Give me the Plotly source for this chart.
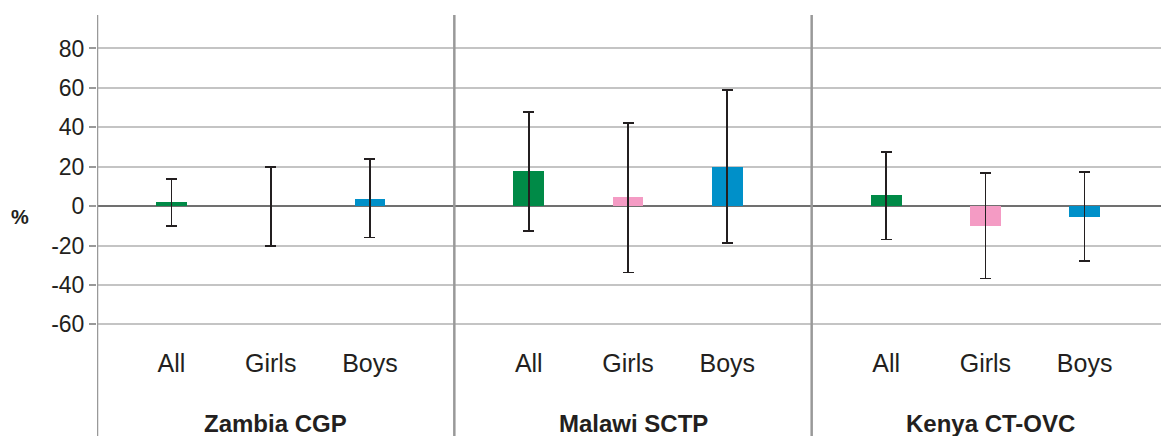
import plotly.graph_objects as go

groups = ["Zambia CGP", "Malawi SCTP", "Kenya CT-OVC"]
categories = ["All", "Girls", "Boys"]
colors = ["#008A47", "#F49BC4", "#0090C9"]

# point estimates and confidence limits (%), per group, per category
values = [[2.2, 0.0, 3.5], [17.8, 4.6, 19.8], [5.6, -10.0, -5.4]]
upper = [[13.7, 20.0, 23.8], [47.9, 42.3, 59.0], [27.6, 16.9, 17.3]]
lower = [[-10.0, -20.4, -16.0], [-12.5, -33.7, -18.6], [-16.9, -36.7, -28.0]]

y_ticks = [-60, -40, -20, 0, 20, 40, 60, 80]
y_ticktext = ["-60", "-40", "-20", "0", "20", "40", "60", "80"]

GW = 3.6   # group width in x units
OFF = 0.75

fig = go.Figure()
tickvals, ticktext = [], []
for c, cat in enumerate(categories):
    xs, ys, ep, em = [], [], [], []
    for g in range(len(groups)):
        x = g * GW + c + OFF
        xs.append(x)
        v = values[g][c]
        ys.append(v)
        ep.append(upper[g][c] - v)
        em.append(v - lower[g][c])
    fig.add_trace(go.Bar(
        x=xs, y=ys, width=0.31, marker=dict(color=colors[c], line=dict(width=0)),
        error_y=dict(type="data", symmetric=False, array=ep, arrayminus=em,
                     color="#231f20", thickness=1.7, width=5.5),
        showlegend=False, name=cat))
for g in range(len(groups)):
    for c, cat in enumerate(categories):
        tickvals.append(g * GW + c + OFF)
        ticktext.append(cat)

font = "Liberation Sans, Arial, sans-serif"
fig.update_layout(
    width=1161, height=428,
    margin=dict(l=89, r=0, t=7, b=92, autoexpand=False),
    plot_bgcolor="white", paper_bgcolor="white",
    font=dict(family=font, color="#231f20", size=22),
    xaxis=dict(range=[0, GW * 3], tickvals=tickvals, ticktext=ticktext,
               showgrid=False, zeroline=False, showline=False, ticks="",
               ticklabelstandoff=2, tickfont=dict(size=25), automargin=False),
    yaxis=dict(range=[-70, 97], tickvals=y_ticks, ticktext=y_ticktext, showgrid=True,
               gridcolor="#c4c4c4", gridwidth=1.5,
               zeroline=True, zerolinecolor="#707070", zerolinewidth=1.5,
               ticks="outside", ticklen=7, tickcolor="#999999", tickwidth=1.5,
               tickfont=dict(size=23), showline=False, automargin=False),
    bargap=0,
)

shapes = []
for g in range(len(groups)):
    shapes.append(dict(type="line", xref="x", yref="paper", x0=g * GW, x1=g * GW,
                       y0=-0.3, y1=1.0, line=dict(color="#999999", width=2.5)))
fig.update_layout(shapes=shapes)

for g, name in enumerate(groups):
    fig.add_annotation(x=g * GW + GW / 2, xref="x", y=-0.241, yref="paper",
                       text="<b>" + name + "</b>", showarrow=False,
                       font=dict(size=24, family=font, color="#231f20"),
                       xanchor="center", yanchor="middle")
fig.add_annotation(x=-0.0718, xref="paper", y=-5.6, yref="y", text="<b>%</b>",
                   showarrow=False, font=dict(size=20, family=font, color="#231f20"),
                   xanchor="center", yanchor="middle")

fig.write_html("out.html")
